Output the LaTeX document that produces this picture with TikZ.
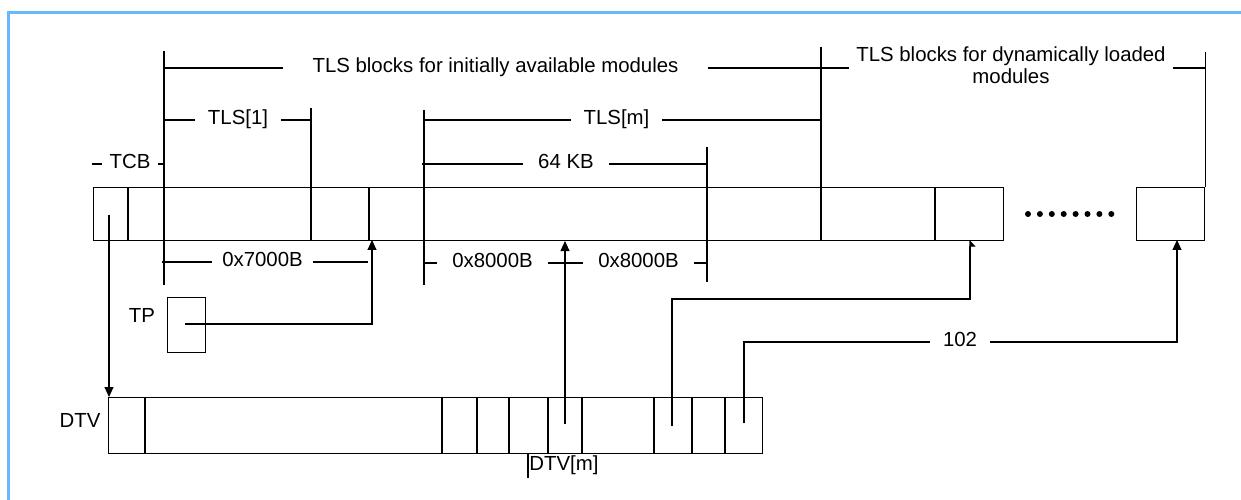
\documentclass[tikz,border=0pt]{standalone}
\usepackage{fontspec}
\setmainfont{Liberation Sans}
\usetikzlibrary{arrows.meta}
\definecolor{frameblue}{RGB}{105,185,250}
\tikzset{
  lbl/.style={inner ysep=0pt, inner xsep=0.25cm, font=\fontsize{11.6}{12.6}\selectfont},
  box/.style={draw, inner sep=0pt, anchor=north west},
  ptr/.style={-{Triangle[length=0.2cm,width=0.18cm]}},
  halfptr/.style={-{Triangle[length=0.12cm,width=0.22cm,right]}},
}

\begin{document}
\begin{tikzpicture}[x=0.02cm,y=-0.02cm,line width=0.6pt]
\useasboundingbox (0,0) rectangle (1241,500);
\draw[frameblue,line width=0.05cm] (8.5,500) -- (8.5,12.5) -- (1241,12.5);

% memory blocks
\node[box,minimum width=18.2cm,minimum height=1.06cm] (bar) at (93,187) {};
\node[box,minimum width=1.36cm,minimum height=1.06cm] (dynbox) at (1136,187) {};
\node[box,minimum width=0.76cm,minimum height=1.1cm] (tpbox) at (167,297) {};
\node[box,minimum width=13.08cm,minimum height=1.12cm] (dtvbox) at (108,397) {};

\foreach \x in {128,369,935} \draw (\x,187) -- (\x,240);
\draw (164,51) -- (164,285);
\draw (311,108) -- (311,241);
\draw (424,110) -- (424,285);
\draw (707,147) -- (707,282);
\draw (821,47) -- (821,240);
\draw (dynbox.north east) -- (dynbox.north east |- 0,52);
\foreach \x in {145,442,477,509,548,582,654,692,725} \draw (\x,397) -- (\x,453);
\draw (528,453) -- (528,478);
\foreach \i in {0,...,7} \fill (1028+11.9*\i,214) circle (0.06cm);

% labels
\node[lbl,anchor=mid,inner xsep=0.59cm] (initlbl) at (495.5,68) {TLS blocks for initially available modules};
\node[lbl,align=center,inner xsep=0.14cm] (dynlbl) at (1011,65) {TLS blocks for dynamically loaded\\modules};
\draw (164,68) -- (initlbl.mid west);
\draw (initlbl.mid east) -- (dynlbl.west |- initlbl.mid east);
\draw (dynlbl.east |- initlbl.mid east) -- (dynbox.north east |- initlbl.mid east);

\node[lbl,anchor=mid] (tls1) at (238,120) {TLS[1]};
\draw (164,120) -- (tls1.mid west);
\draw (tls1.mid east) -- (311,120);

\node[lbl,anchor=mid,inner xsep=0.15cm] (tcb) at (130,164) {TCB};
\draw (92,164) -- (tcb.mid west);
\draw (tcb.mid east) -- (164,164);

\node[lbl,anchor=mid] (tlsm) at (616.5,120) {TLS[m]};
\draw (424,120) -- (tlsm.mid west);
\draw (tlsm.mid east) -- (821,120);

\node[lbl,anchor=mid,inner xsep=0.3cm] (kb64) at (566,164) {64 KB};
\draw (422,164) -- (kb64.mid west);
\draw (kb64.mid east) -- (708,164);

\node[lbl,anchor=mid,inner xsep=0.2cm] (off7) at (262.5,262) {0x7000B};
\draw (162,262) -- (off7.mid west);
\draw (off7.mid east) -- (368,262);

\node[lbl,anchor=mid,inner xsep=0.3cm] (off8a) at (492.5,263) {0x8000B};
\node[lbl,anchor=mid,inner xsep=0.3cm] (off8b) at (638.5,263) {0x8000B};
\draw (424,263) -- (off8a.mid west);
\draw (off8a.mid east) -- (off8b.mid west);
\draw (off8b.mid east) -- (708,263);

\node[lbl,inner xsep=0pt] (tp) at (142,315) {TP};
\node[lbl,inner xsep=0pt] (dtv) at (80,420) {DTV};
\node[lbl,anchor=west,inner xsep=0.5pt] (dtvm) at (528,465) {DTV[m]};
\node[lbl,anchor=mid] (lbl102) at (960,342) {102};

% pointers
\coordinate (tcbptr) at (109,215);
\coordinate (tpptr) at (185,324);
\coordinate (tls1ptr) at (372,240);
\coordinate (dtvmptr) at (565,424);
\coordinate (dtvkptr) at (672,426);
\coordinate (bendk) at (970,299);
\coordinate (tlskptr) at (970,240);
\coordinate (dtvnptr) at (744,423);
\coordinate (dynptr) at (1177,240);

\draw[ptr] (tcbptr) -- (tcbptr |- dtvbox.north);
\draw[ptr] (tpptr) -| (tls1ptr);
\draw[ptr] (dtvmptr) -- (dtvmptr |- bar.south);
\draw[halfptr] (dtvkptr) |- (bendk) -- (tlskptr);
\draw (dtvnptr) |- (lbl102.mid west);
\draw[ptr] (lbl102.mid east) -| (dynptr);
\end{tikzpicture}
\end{document}
